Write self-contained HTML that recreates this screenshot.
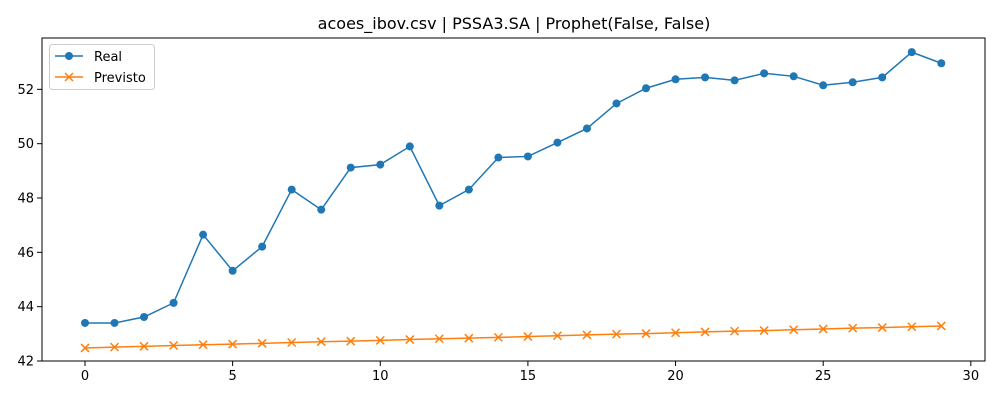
<!DOCTYPE html>
<html><head><meta charset="utf-8"><style>
body{margin:0;background:#fff;font-family:"Liberation Sans","DejaVu Sans",sans-serif}
svg text{font-family:"DejaVu Sans","Liberation Sans",sans-serif}
</style></head><body>
<svg id="chart" width="1000" height="400">
<rect width="1000" height="400" fill="#fff"/>
<text x="514" y="29" font-size="16" text-anchor="middle">acoes_ibov.csv | PSSA3.SA | Prophet(False, False)</text>
<g id="plot"></g>
<rect x="42" y="38" width="943" height="323" fill="none" stroke="#000" stroke-width="1"/>
<g>
<rect x="49.5" y="44.5" width="105" height="45" rx="3" fill="#fff" fill-opacity="0.8" stroke="#ccc"/>
<g>
<line x1="55" y1="56" x2="83" y2="56" stroke="#1f77b4" stroke-width="1.5"/><circle cx="69" cy="56" r="4" fill="#1f77b4"/>
<text x="94" y="61" font-size="13">Real</text></g>
<g>
<line x1="55" y1="77" x2="83" y2="77" stroke="#ff7f0e" stroke-width="1.5"/>
<path d="M65 73 L73 81 M65 81 L73 73" stroke="#ff7f0e" stroke-width="1.5"/>
<text x="94" y="82" font-size="13">Previsto</text></g>
</g>
</svg>
<script>
const xTicks=[0,5,10,15,20,25,30];
const yTicks=[42,44,46,48,50,52];
const real=[43.40,43.40,43.62,44.14,46.65,45.32,46.21,48.31,47.57,49.12,49.23,49.90,47.72,48.31,49.49,49.53,50.04,50.56,51.48,52.04,52.37,52.44,52.33,52.59,52.48,52.15,52.26,52.44,53.37,52.96];
const previsto=[42.48,42.51,42.54,42.57,42.60,42.62,42.65,42.68,42.71,42.73,42.76,42.79,42.82,42.84,42.87,42.90,42.93,42.96,42.99,43.01,43.04,43.07,43.10,43.12,43.15,43.18,43.21,43.23,43.26,43.29];
const X0=-1.456,X1=30.48,Y0=42,Y1=53.89,L=42,R=985,T=38,B=361;
const sx=v=>L+(v-X0)/(X1-X0)*(R-L);
const sy=v=>B-(v-Y0)/(Y1-Y0)*(B-T);
const NS="http://www.w3.org/2000/svg";
const g=document.getElementById('plot');
function mk(t,a){const e=document.createElementNS(NS,t);for(const k in a)e.setAttribute(k,a[k]);g.appendChild(e);return e;}
xTicks.forEach(v=>{
 const l=mk('line',{x1:sx(v),x2:sx(v),y1:B,y2:B+5,stroke:'#000'});
 
 
 const t=mk('text',{x:sx(v),y:B+19,'font-size':13,'text-anchor':'middle'});t.textContent=v;
 
 
});
yTicks.forEach(v=>{
 const l=mk('line',{x1:L-5,x2:L,y1:sy(v),y2:sy(v),stroke:'#000'});
 
 
 const t=mk('text',{x:L-8,y:sy(v)+4.5,'font-size':13,'text-anchor':'end'});t.textContent=v;
 
 
});
const rl=mk('polyline',{points:real.map((v,i)=>sx(i)+','+sy(v)).join(' '),fill:'none',stroke:'#1f77b4','stroke-width':1.5});


real.forEach((v,i)=>{const c=mk('circle',{cx:sx(i),cy:sy(v),r:4,fill:'#1f77b4'});
 
 });
const pl=mk('polyline',{points:previsto.map((v,i)=>sx(i)+','+sy(v)).join(' '),fill:'none',stroke:'#ff7f0e','stroke-width':1.5});


previsto.forEach((v,i)=>{const x=sx(i),y=sy(v);
 const p=mk('path',{d:`M${x-4} ${y-4}L${x+4} ${y+4}M${x-4} ${y+4}L${x+4} ${y-4}`,stroke:'#ff7f0e','stroke-width':1.5});
 
 });
</script>
</body></html>
